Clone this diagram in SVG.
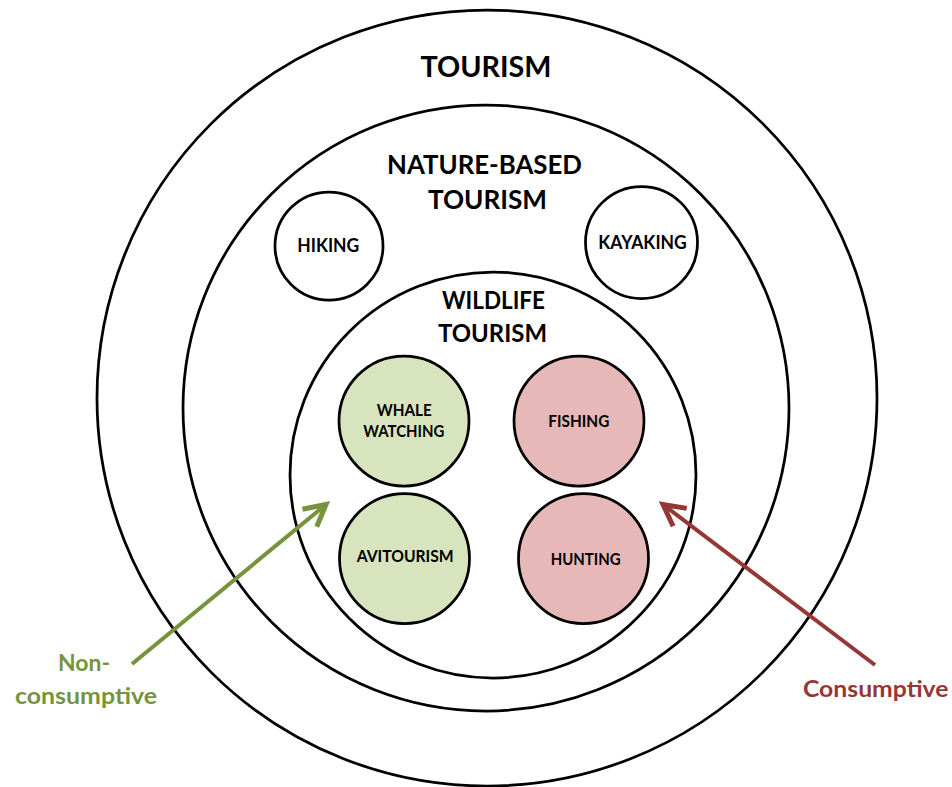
<svg xmlns="http://www.w3.org/2000/svg" width="952" height="787" viewBox="0 0 952 787">
<style>
.ring{fill:none;stroke:#000;stroke-width:2.75}
.leaf{stroke:#000;stroke-width:2.75}
.white{fill:#fff}
.green{fill:#D7E4BD}
.red{fill:#E6B9B8}
text{font-family:Lato,"Open Sans","Liberation Sans",sans-serif;font-weight:700;fill:#000}
.big{font-size:28px}
.nb{font-size:26.5px}
.wl{font-size:24.5px}
.sm{font-size:18px}
.in{font-size:16.2px}
.lab{font-size:23.5px}
.gt{fill:#77933C}
.rt{fill:#953735}
.arr{fill:none;stroke-width:4}
</style>
<defs>
<marker id="hg" markerUnits="userSpaceOnUse" markerWidth="30" markerHeight="30" viewBox="-20 -12 24 24" refX="0" refY="0" orient="auto">
<path d="M -17 -9 L 0 0 L -17 9" fill="none" stroke="#77933C" stroke-width="4"/>
</marker>
<marker id="hr" markerUnits="userSpaceOnUse" markerWidth="30" markerHeight="30" viewBox="-20 -12 24 24" refX="0" refY="0" orient="auto">
<path d="M -17 -9 L 0 0 L -17 9" fill="none" stroke="#953735" stroke-width="4"/>
</marker>
</defs>
<rect width="952" height="787" fill="#fff"/>
<g id="tourism">
<ellipse class="ring" cx="487" cy="398" rx="390" ry="388"/>
<text class="big" x="420.5" y="77" textLength="131" lengthAdjust="spacingAndGlyphs">TOURISM</text>
</g>
<g id="nature-based">
<circle class="ring" cx="486" cy="408" r="303"/>
<text class="nb" x="387" y="173.5" textLength="195" lengthAdjust="spacingAndGlyphs">NATURE-BASED</text>
<text class="nb" x="428" y="208.5" textLength="119" lengthAdjust="spacingAndGlyphs">TOURISM</text>
</g>
<g id="wildlife">
<circle class="ring" cx="493" cy="475" r="203"/>
<text class="wl" x="442" y="309" textLength="103" lengthAdjust="spacingAndGlyphs">WILDLIFE</text>
<text class="wl" x="438" y="342" textLength="109" lengthAdjust="spacingAndGlyphs">TOURISM</text>
</g>
<g id="hiking">
<circle class="leaf white" cx="329" cy="246" r="54"/>
<text class="sm" x="297.3" y="251.5" textLength="62" lengthAdjust="spacingAndGlyphs">HIKING</text>
</g>
<g id="kayaking">
<circle class="leaf white" cx="641.5" cy="242.5" r="56"/>
<text class="sm" x="598.3" y="249.3" textLength="88.5" lengthAdjust="spacingAndGlyphs">KAYAKING</text>
</g>
<g id="whale-watching">
<circle class="leaf green" cx="404" cy="421" r="65"/>
<text class="in" x="376.7" y="415.7" textLength="55" lengthAdjust="spacingAndGlyphs">WHALE</text>
<text class="in" x="363.3" y="437.3" textLength="81" lengthAdjust="spacingAndGlyphs">WATCHING</text>
</g>
<g id="fishing">
<circle class="leaf red" cx="579" cy="421" r="65"/>
<text class="in" x="548.3" y="426.7" textLength="61" lengthAdjust="spacingAndGlyphs">FISHING</text>
</g>
<g id="avitourism">
<circle class="leaf green" cx="404.5" cy="558.5" r="65"/>
<text class="in" x="356.7" y="562.3" textLength="97" lengthAdjust="spacingAndGlyphs">AVITOURISM</text>
</g>
<g id="hunting">
<circle class="leaf red" cx="583.5" cy="558.5" r="65"/>
<text class="in" x="550.7" y="565" textLength="70" lengthAdjust="spacingAndGlyphs">HUNTING</text>
</g>
<g id="connectors">
<line class="arr" x1="132" y1="664" x2="326" y2="504.5" stroke="#77933C" marker-end="url(#hg)"/>
<line class="arr" x1="875" y1="665" x2="663" y2="504.5" stroke="#953735" marker-end="url(#hr)"/>
</g>
<g id="non-consumptive">
<text class="lab gt" x="58" y="670.5" textLength="52" lengthAdjust="spacingAndGlyphs">Non-</text>
<text class="lab gt" x="15" y="704" textLength="142" lengthAdjust="spacingAndGlyphs">consumptive</text>
</g>
<g id="consumptive">
<text class="lab rt" x="803" y="697" textLength="145.5" lengthAdjust="spacingAndGlyphs">Consumptive</text>
</g>
</svg>
